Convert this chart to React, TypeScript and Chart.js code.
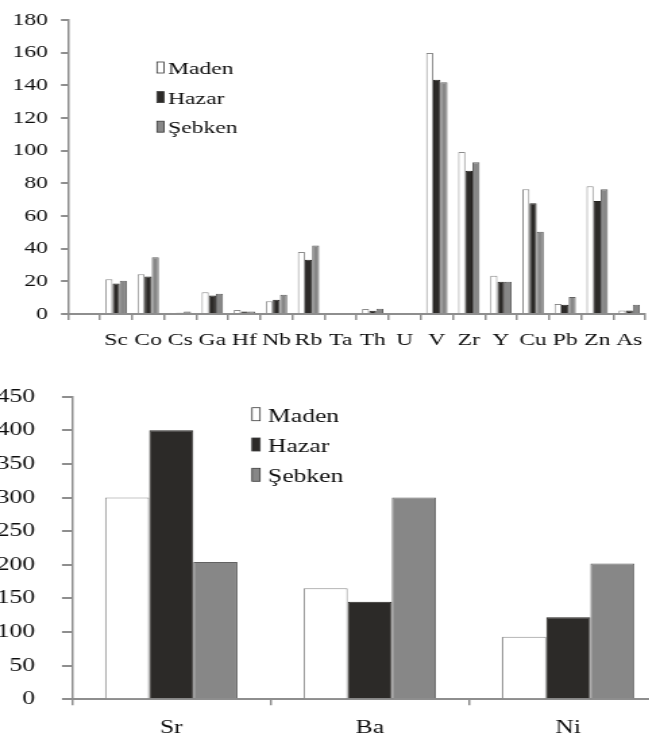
import React, { useEffect, useRef } from 'react';
import { Chart, registerables } from 'chart.js';

Chart.register(...registerables);

// ---------- data ----------
const topCategories = ['', 'Sc', 'Co', 'Cs', 'Ga', 'Hf', 'Nb', 'Rb', 'Ta', 'Th', 'U', 'V', 'Zr', 'Y', 'Cu', 'Pb', 'Zn', 'As'];
const topMaden = [0, 21.3, 24.3, 0.8, 13.3, 2.5, 7.8, 37.9, 0, 3.0, 0, 159.9, 99.3, 23.5, 76.4, 6.2, 78.2, 2.2];
const topHazar = [0, 18.7, 22.9, 0.8, 11.4, 1.6, 8.8, 33.3, 0, 2.0, 0, 143.5, 87.7, 19.7, 67.8, 5.6, 69.2, 2.2];
const topSebken = [0, 20.3, 34.7, 1.6, 12.4, 1.6, 11.8, 41.9, 0, 3.2, 0, 141.9, 92.9, 19.7, 50.4, 10.4, 76.4, 5.6];

const bottomCategories = ['Sr', 'Ba', 'Ni'];
const bottomMaden = [300, 165, 93];
const bottomHazar = [400, 145, 122];
const bottomSebken = [204, 300, 202];

const seriesLabels = ['Maden', 'Hazar', 'Şebken'];

// ---------- styles ----------
const FONT = '"Liberation Serif", "Times New Roman", serif';
const TEXT = '#0d0d0d';
const AXIS = '#8e8e8e';
const FILLS = ['#ffffff', '#2c2a28', '#878787'];
const BORDERS = ['#8c8c8c', '#262422', '#626262'];

const legendPlugin = {
  id: 'customLegend',
  afterDraw(chart: any, _args: any, opts: any) {
    const ctx = chart.ctx;
    ctx.save();
    chart.data.datasets.forEach((ds: any, i: number) => {
      const base = opts.baseY + i * opts.spacing;
      const by = base - 1 - opts.boxH;
      ctx.fillStyle = ds.backgroundColor;
      ctx.fillRect(opts.boxX, by, opts.boxW, opts.boxH);
      ctx.strokeStyle = '#3a3a3a';
      ctx.lineWidth = 0.8;
      ctx.strokeRect(opts.boxX, by, opts.boxW, opts.boxH);
      ctx.fillStyle = TEXT;
      ctx.font = `${opts.size}px ${FONT}`;
      ctx.textBaseline = 'alphabetic';
      ctx.textAlign = 'left';
      ctx.fillText(ds.label, opts.textX, base);
    });
    ctx.restore();
  },
};

function makeConfig(p: any) {
  const S = p.S;
  return {
    type: 'bar' as const,
    data: {
      labels: p.labels,
      datasets: p.series.map((d: number[], i: number) => ({
        label: seriesLabels[i],
        data: d,
        backgroundColor: FILLS[i],
        borderColor: BORDERS[i],
        borderWidth: 1,
        categoryPercentage: 0.667,
        barPercentage: 1,
      })),
    },
    plugins: [legendPlugin],
    options: {
      responsive: false,
      animation: false as const,
      devicePixelRatio: 1,
      layout: { padding: { top: p.padTop, right: p.padRight, left: 0, bottom: 0 } },
      plugins: {
        legend: { display: false },
        tooltip: { enabled: false },
        customLegend: p.legend,
      },
      scales: {
        x: {
          grid: { offset: true, drawOnChartArea: false, drawTicks: true, tickLength: 6, color: AXIS, lineWidth: 1.5 },
          border: { color: AXIS, width: 2 },
          ticks: {
            autoSkip: false, maxRotation: 0, minRotation: 0, padding: p.xPad, color: TEXT,
            font: { family: FONT, size: p.font },
          },
          afterFit: (a: any) => { a.height = p.xH; },
        },
        y: {
          min: 0, max: p.max,
          grid: { drawOnChartArea: false, drawTicks: true, tickLength: p.yTick / S, color: AXIS, lineWidth: 2 },
          border: { color: AXIS, width: 1.5 },
          ticks: {
            stepSize: p.step, padding: p.yPad / S, color: TEXT,
            font: { family: FONT, size: p.font },
          },
          afterFit: (a: any) => { a.width = p.yW / S; },
        },
      },
    },
  };
}

const TOP_CSS_W = 656, TOP_INT_W = 486, TOP_H = 360;
const BOT_CSS_W = 672, BOT_INT_W = 498, BOT_H = 383;

export default function App() {
  const topRef = useRef<HTMLCanvasElement>(null);
  const botRef = useRef<HTMLCanvasElement>(null);

  useEffect(() => {
    const S1 = TOP_CSS_W / TOP_INT_W;
    const S2 = BOT_CSS_W / BOT_INT_W;
    const c1 = new Chart(topRef.current as HTMLCanvasElement, makeConfig({
      S: S1,
      labels: topCategories,
      series: [topMaden, topHazar, topSebken],
      max: 180, step: 20,
      padTop: 13, padRight: (TOP_CSS_W - 651.4) / S1,
      xH: TOP_H - 314, xPad: 10, font: 17.5,
      yTick: 7, yPad: 13, yW: 68,
      legend: { boxX: 157 / S1, boxW: 7 / S1, boxH: 11, textX: 168 / S1, baseY: 74, spacing: 29.6, size: 17.5 },
    }) as any);
    const c2 = new Chart(botRef.current as HTMLCanvasElement, makeConfig({
      S: S2,
      labels: bottomCategories,
      series: [bottomMaden, bottomHazar, bottomSebken],
      max: 450, step: 50,
      padTop: 36.7, padRight: (BOT_CSS_W - 667.5) / S2,
      xH: BOT_H - 339.3, xPad: 11, font: 19,
      yTick: 10, yPad: 27, yW: 72,
      legend: { boxX: 252 / S2, boxW: 8 / S2, boxH: 13, textX: 268 / S2, baseY: 61.7, spacing: 30.3, size: 19 },
    }) as any);
    return () => { c1.destroy(); c2.destroy(); };
  }, []);

  return (
    <div style={{ position: 'absolute', left: 0, top: 0, width: 649, height: 743, overflow: 'hidden', background: '#ffffff' }}>
      <canvas
        ref={topRef}
        width={TOP_INT_W}
        height={TOP_H}
        style={{ position: 'absolute', left: 0, top: 0, width: `${TOP_CSS_W}px`, height: `${TOP_H}px` }}
      />
      <canvas
        ref={botRef}
        width={BOT_INT_W}
        height={BOT_H}
        style={{ position: 'absolute', left: 0, top: TOP_H, width: `${BOT_CSS_W}px`, height: `${BOT_H}px` }}
      />
    </div>
  );
}
